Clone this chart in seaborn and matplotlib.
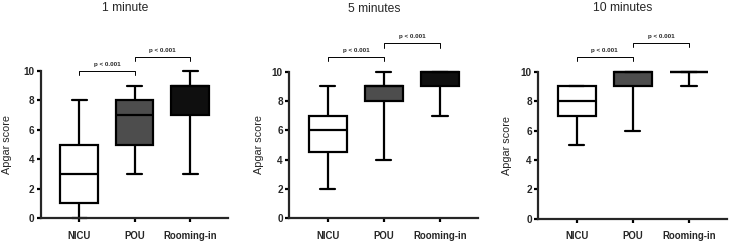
import pandas as pd
import matplotlib.pyplot as plt
import seaborn as sns

# Categories and panels
groups = ["NICU", "POU", "Rooming-in"]
panel_titles = ["1 minute", "5 minutes", "10 minutes"]

# Five-number summaries (one row per panel, one column per group)
whisker_low = [[0, 3, 3], [2, 4, 7], [5, 6, 9]]
quartile_1 = [[1, 5, 7], [4.5, 8, 9], [7, 9, 10]]
medians = [[3, 7, 9], [6, 9, 10], [8, 10, 10]]
quartile_3 = [[5, 8, 9], [7, 9, 10], [9, 10, 10]]
whisker_high = [[8, 9, 10], [9, 10, 10], [9, 10, 10]]

p_labels = ["p < 0.001", "p < 0.001"]
y_ticks = [0, 2, 4, 6, 8, 10]

box_colors = ["#ffffff", "#4d4d4d", "#0f0f0f"]

# Long table for seaborn: the five summary values per group reproduce the box exactly
rows = []
for i, title in enumerate(panel_titles):
    for j, g in enumerate(groups):
        for v in (whisker_low[i][j], quartile_1[i][j], medians[i][j],
                  quartile_3[i][j], whisker_high[i][j]):
            rows.append({"panel": title, "group": g, "score": v})
df = pd.DataFrame(rows)

sns.set_style("ticks")
plt.rcParams["font.family"] = ["Liberation Sans", "DejaVu Sans"]

fig = plt.figure(figsize=(7.3, 2.43), dpi=100)

# axes rectangles in figure fractions
axes_rects = [
    [0.056, 0.102, 0.256, 0.606],
    [0.396, 0.102, 0.259, 0.603],
    [0.737, 0.099, 0.259, 0.606],
]
label_x = [-0.152, -0.135, -0.138]
bracket_levels = [[10.0, 10.95], [11.0, 11.95], [11.0, 11.95]]
pairs = [(0, 1), (1, 2)]

for i, title in enumerate(panel_titles):
    ax = fig.add_axes(axes_rects[i])
    sub = df[df["panel"] == title]
    sns.boxplot(
        data=sub, x="group", y="score", hue="group",
        order=groups, hue_order=groups, palette=box_colors,
        saturation=1, width=0.68, whis=(0, 100),
        linecolor="black", linewidth=1.6, capwidths=0.27,
        legend=False, ax=ax,
    )
    for art in ax.get_children():
        if isinstance(art, (plt.Line2D, plt.matplotlib.patches.Patch)):
            art.set_clip_on(False)

    ax.set_xlim(-0.69, 2.68)
    ax.set_ylim(0, 10)
    ax.set_yticks(y_ticks)
    sns.despine(ax=ax)
    for side in ("left", "bottom"):
        ax.spines[side].set_linewidth(1.6)
    ax.tick_params(axis="both", width=1.6, length=3, color="black")
    ax.tick_params(axis="y", pad=1.5, labelsize=7.2)
    ax.tick_params(axis="x", pad=6, labelsize=6.9)
    for lab in ax.get_xticklabels() + ax.get_yticklabels():
        lab.set_fontweight("bold")

    ax.set_xlabel("")
    ax.set_ylabel("Apgar score", fontsize=7.8)
    ax.yaxis.set_label_coords(label_x[i], 0.5)

    ax.text(0.45, 1.43, title, transform=ax.transAxes,
            ha="center", va="center", fontsize=8.7)

    # significance brackets
    for (a, b), level, lab in zip(pairs, bracket_levels[i], p_labels):
        ax.plot([a, a, b, b], [level - 0.3, level, level, level - 0.3],
                color="black", lw=0.7, clip_on=False)
        ax.text((a + b) / 2, level + 0.45, lab, ha="center", va="center",
                fontsize=4.5, fontweight="bold", clip_on=False)

fig.savefig("out.png", dpi=100)
